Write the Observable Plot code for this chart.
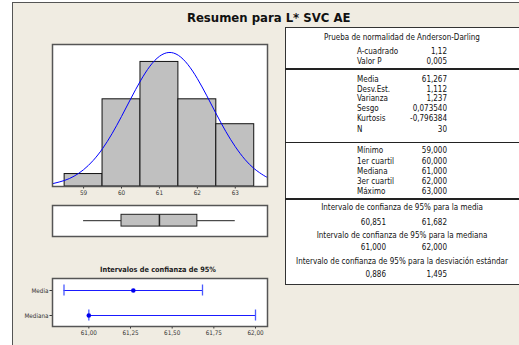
<!DOCTYPE html>
<html><head><meta charset="utf-8">
<script src="https://cdn.jsdelivr.net/npm/d3@7"></script>
<script src="https://cdn.jsdelivr.net/npm/@observablehq/plot@0.6"></script>
<style>
body{margin:0;background:#fff;}
#root{position:relative;width:519px;height:345px;overflow:hidden;font-family:"DejaVu Sans Condensed","DejaVu Sans",sans-serif;}
#bg{position:absolute;left:12px;top:2px;width:530px;height:370px;background:#F0ECE2;border:1.5px solid #555;box-sizing:border-box;}
.p{position:absolute;left:0;}
.t{position:absolute;font-size:8px;line-height:10px;height:10px;color:#111;white-space:nowrap;}
.c{transform:translateX(-50%);}
.line{position:absolute;left:285px;width:240px;height:1.5px;background:#222;}
#tbl{position:absolute;left:285px;top:27px;width:240px;height:258px;background:#fff;border:1.5px solid #333;box-sizing:border-box;}
</style></head><body><div id="root"><div id="bg"></div></div>
<script>
// ---- data ----
const title = "Resumen para L* SVC AE";
const binLow = [58.5, 59.5, 60.5, 61.5, 62.5];
const binHigh = [59.5, 60.5, 61.5, 62.5, 63.5];
const counts = [1, 7, 10, 7, 5];
const binTicks = [59, 60, 61, 62, 63];
const curveX = [58.2, 58.5, 58.75, 59, 59.25, 59.5, 59.75, 60, 60.25, 60.5, 60.75, 61, 61.25, 61.5, 61.75, 62, 62.25, 62.5, 62.75, 63, 63.25, 63.5, 63.75, 63.85];
const curveY = [0.24, 0.49, 0.83, 1.35, 2.08, 3.04, 4.24, 5.62, 7.08, 8.48, 9.66, 10.45, 10.76, 10.53, 9.79, 8.66, 7.28, 5.82, 4.42, 3.2, 2.19, 1.43, 0.89, 0.73];
const boxStats = {min: 59, q1: 60, median: 61, q3: 62, max: 63};
const ciTitle = "Intervalos de confianza de 95%";
const ciLabels = ["Media", "Mediana"];
const ciLow = [60.851, 61.000];
const ciHigh = [61.682, 62.000];
const ciPoint = [61.267, 61.000];
const ciTicks = [61, 61.25, 61.5, 61.75, 62];

const adHeader = "Prueba de normalidad de Anderson-Darling";
const adLabels = ["A-cuadrado", "Valor P"];
const adValues = ["1,12", "0,005"];
const momLabels = ["Media", "Desv.Est.", "Varianza", "Sesgo", "Kurtosis", "N"];
const momValues = ["61,267", "1,112", "1,237", "0,073540", "-0,796384", "30"];
const qLabels = ["Mínimo", "1er cuartil", "Mediana", "3er cuartil", "Máximo"];
const qValues = ["59,000", "60,000", "61,000", "62,000", "63,000"];
const ciHeaders = ["Intervalo de confianza de 95% para la media", "Intervalo de confianza de 95% para la mediana", "Intervalo de confianza de 95% para la desviación estándar"];
const ciLowText = ["60,851", "61,000", "0,886"];
const ciHighText = ["61,682", "62,000", "1,495"];

// ---- layout helpers ----
const root = document.getElementById("root");
function addText(txt, x, cy, align, extra) {
  const d = document.createElement("div");
  d.className = "t" + (align === "c" ? " c" : "");
  d.textContent = txt;
  d.style.top = (cy - 5) + "px";
  if (align === "r") d.style.right = (519 - x) + "px"; else d.style.left = x + "px";
  if (extra) Object.assign(d.style, extra);
  root.appendChild(d);
  return d;
}
function place(svg, top) {
  const w = document.createElement("div");
  w.className = "p"; w.style.top = top + "px";
  w.appendChild(svg); root.appendChild(w);
}
const axStyle = {background: "transparent", fontFamily: "DejaVu Sans Condensed, DejaVu Sans, sans-serif", fontSize: "6.3px", color: "#333", overflow: "visible"};
const xDom = [58.18, 63.85];

// ---- histogram ----
const bins = counts.map((c, i) => ({x1: binLow[i], x2: binHigh[i], c}));
const curve = curveX.map((x, i) => ({x, y: curveY[i]}));
place(Plot.plot({
  width: 290, height: 200, marginLeft: 52, marginRight: 23, marginTop: 44, marginBottom: 14,
  style: axStyle,
  x: {domain: xDom, ticks: binTicks, tickSize: 2.5, tickPadding: 1.5, tickFormat: d => d, label: null},
  y: {domain: [0, 11.4], axis: null},
  marks: [
    Plot.frame({fill: "white"}),
    Plot.rect(bins, {x1: "x1", x2: "x2", y1: 0, y2: "c", fill: "#C0C0C0", stroke: "#111", strokeWidth: 1}),
    Plot.line(curve, {x: "x", y: "y", stroke: "#0000FF", strokeWidth: 1, curve: "natural", clip: true}),
    Plot.frame({stroke: "#555", strokeWidth: 1.5})
  ]
}), 0);

// ---- boxplot ----
place(Plot.plot({
  width: 290, height: 50, marginLeft: 52, marginRight: 23, marginTop: 10, marginBottom: 9,
  style: axStyle,
  x: {domain: xDom, axis: null},
  y: {domain: [0, 1], range: [10, 41], axis: null},
  marks: [
    Plot.frame({fill: "white"}),
    Plot.ruleY([boxStats], {x1: d => d.min, x2: d => d.q1, y: 0.49, stroke: "#222", strokeWidth: 1}),
    Plot.ruleY([boxStats], {x1: d => d.q3, x2: d => d.max, y: 0.49, stroke: "#222", strokeWidth: 1}),
    Plot.rect([boxStats], {x1: d => d.q1, x2: d => d.q3, y1: 0.3, y2: 0.68, fill: "#C0C0C0", stroke: "#222", strokeWidth: 1}),
    Plot.ruleX([boxStats], {x: d => d.median, y1: 0.3, y2: 0.68, stroke: "#222", strokeWidth: 1.5}),
    Plot.frame({stroke: "#555", strokeWidth: 1.5})
  ]
}), 195);

// ---- confidence intervals ----
const ciRows = ciLabels.map((label, i) => ({i, label, low: ciLow[i], high: ciHigh[i], pt: ciPoint[i]}));
place(Plot.plot({
  width: 290, height: 90, marginLeft: 52, marginRight: 23, marginTop: 23, marginBottom: 19,
  style: axStyle,
  x: {domain: [60.782, 62.072], ticks: ciTicks, tickSize: 2.5, tickPadding: 1.5, tickFormat: d => d.toFixed(2).replace(".", ","), label: null},
  y: {domain: [1.44, -0.48], ticks: [0, 1], tickFormat: i => ciLabels[i], tickSize: 2.5, tickPadding: 1.5, label: null},
  marks: [
    Plot.frame({fill: "white"}),
    Plot.ruleY(ciRows, {x1: "low", x2: "high", y: "i", stroke: "#1a1aff", strokeWidth: 1.2}),
    Plot.ruleX(ciRows, {x: "low", y1: d => d.i - 0.22, y2: d => d.i + 0.22, stroke: "#4a5aff", strokeWidth: 1.3}),
    Plot.ruleX(ciRows, {x: "high", y1: d => d.i - 0.22, y2: d => d.i + 0.22, stroke: "#4a5aff", strokeWidth: 1.3}),
    Plot.dot(ciRows, {x: "pt", y: "i", r: 2.3, fill: "#0000EE", stroke: "none"}),
    Plot.frame({stroke: "#555", strokeWidth: 1.5})
  ]
}), 255);

// ---- titles ----
addText(title, 268.7, 18, "c", {fontSize: "13px", fontWeight: "bold", color: "#111", lineHeight: "16px", height: "16px", top: "10px"});
addText(ciTitle, 158, 270, "c", {fontSize: "7.3px", fontWeight: "bold", color: "#222"});

// ---- stats table ----
const tbl = document.createElement("div"); tbl.id = "tbl"; root.appendChild(tbl);
[69, 142.5, 199].forEach(y => { const l = document.createElement("div"); l.className = "line"; l.style.top = (y - 0.75) + "px"; root.appendChild(l); });
const LX = 357, RX = 447;
addText(adHeader, 402, 38.3, "c");
[52.3, 62.3].forEach((y, i) => { addText(adLabels[i], LX, y, "l"); addText(adValues[i], RX, y, "r"); });
[80, 89.6, 99.4, 109.3, 119.3, 129.8].forEach((y, i) => { addText(momLabels[i], LX, y, "l"); addText(momValues[i], RX, y, "r"); });
[151, 161.5, 172, 182, 192.2].forEach((y, i) => { addText(qLabels[i], LX, y, "l"); addText(qValues[i], RX, y, "r"); });
[[208.3, 222.7], [236, 248.3], [261.7, 275]].forEach(([hy, vy], i) => {
  addText(ciHeaders[i], 402, hy, "c");
  addText(ciLowText[i], 386, vy, "r");
  addText(ciHighText[i], RX, vy, "r");
});
</script></body></html>
